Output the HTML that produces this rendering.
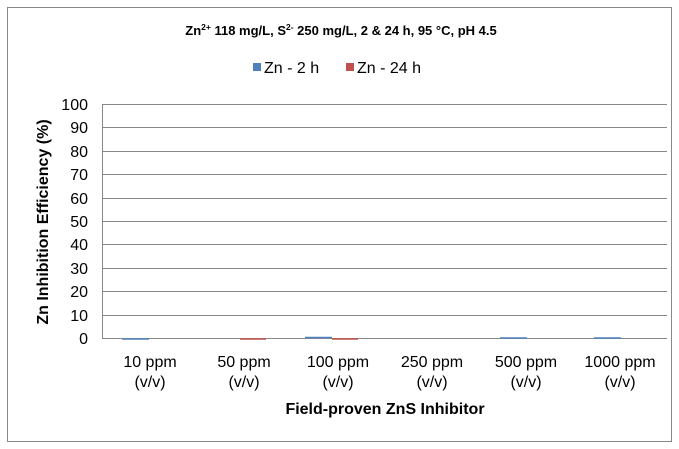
<!DOCTYPE html>
<html><head><style>
body{margin:0;background:#fff;}
svg{display:block;font-family:"Liberation Sans",Arial,sans-serif;}
</style></head><body>
<svg width="679" height="449" xmlns="http://www.w3.org/2000/svg">
<rect x="7.5" y="7.5" width="664" height="434" fill="#fff" stroke="#888" stroke-width="1"/>
<text x="341" y="35" text-anchor="middle" font-size="13" font-weight="bold">Zn<tspan font-size="8.5" dy="-5">2+</tspan><tspan dy="5"> 118 mg/L, S</tspan><tspan font-size="8.5" dy="-5">2-</tspan><tspan dy="5"> 250 mg/L, 2 &amp; 24 h, 95 °C, pH 4.5</tspan></text>
<rect x="253" y="63" width="8" height="8" fill="#4f81bd"/>
<text x="264" y="73" font-size="16">Zn - 2 h</text>
<rect x="346" y="63" width="8" height="8" fill="#c0504d"/>
<text x="357" y="73" font-size="16">Zn - 24 h</text>
<g stroke="#888" stroke-width="1">
<line x1="103" y1="104.5" x2="667" y2="104.5"/>
<line x1="103" y1="127.5" x2="667" y2="127.5"/>
<line x1="103" y1="151.5" x2="667" y2="151.5"/>
<line x1="103" y1="174.5" x2="667" y2="174.5"/>
<line x1="103" y1="198.5" x2="667" y2="198.5"/>
<line x1="103" y1="221.5" x2="667" y2="221.5"/>
<line x1="103" y1="244.5" x2="667" y2="244.5"/>
<line x1="103" y1="268.5" x2="667" y2="268.5"/>
<line x1="103" y1="291.5" x2="667" y2="291.5"/>
<line x1="103" y1="315.5" x2="667" y2="315.5"/>
<line x1="103" y1="338.5" x2="667" y2="338.5"/>
<line x1="102.5" y1="104" x2="102.5" y2="339"/>
</g>
<g stroke-width="1.5">
<line x1="122" y1="339" x2="149" y2="339" stroke="#4f81bd"/>
<line x1="240" y1="339" x2="266" y2="339" stroke="#c0504d"/>
<line x1="305" y1="337.5" x2="332" y2="337.5" stroke="#4f81bd"/>
<line x1="332" y1="339" x2="358" y2="339" stroke="#c0504d"/>
<line x1="500" y1="338" x2="527" y2="338" stroke="#4f81bd"/>
<line x1="594" y1="338" x2="621" y2="338" stroke="#4f81bd"/>
</g>
<g font-size="16" text-anchor="end">
<text x="88" y="110">100</text><text x="88" y="133">90</text><text x="88" y="157">80</text>
<text x="88" y="180">70</text><text x="88" y="204">60</text><text x="88" y="227">50</text>
<text x="88" y="250">40</text><text x="88" y="274">30</text><text x="88" y="297">20</text>
<text x="88" y="321">10</text><text x="88" y="344">0</text>
</g>
<g font-size="16" text-anchor="middle">
<text x="150" y="367">10 ppm</text><text x="150" y="387">(v/v)</text>
<text x="244" y="367">50 ppm</text><text x="244" y="387">(v/v)</text>
<text x="338" y="367">100 ppm</text><text x="338" y="387">(v/v)</text>
<text x="432" y="367">250 ppm</text><text x="432" y="387">(v/v)</text>
<text x="526" y="367">500 ppm</text><text x="526" y="387">(v/v)</text>
<text x="620" y="367">1000 ppm</text><text x="620" y="387">(v/v)</text>
</g>
<text x="385" y="414" text-anchor="middle" font-size="16" font-weight="bold">Field-proven ZnS Inhibitor</text>
<text transform="translate(48,222) rotate(-90)" text-anchor="middle" font-size="16" font-weight="bold">Zn Inhibition Efficiency (%)</text>
</svg>
</body></html>
